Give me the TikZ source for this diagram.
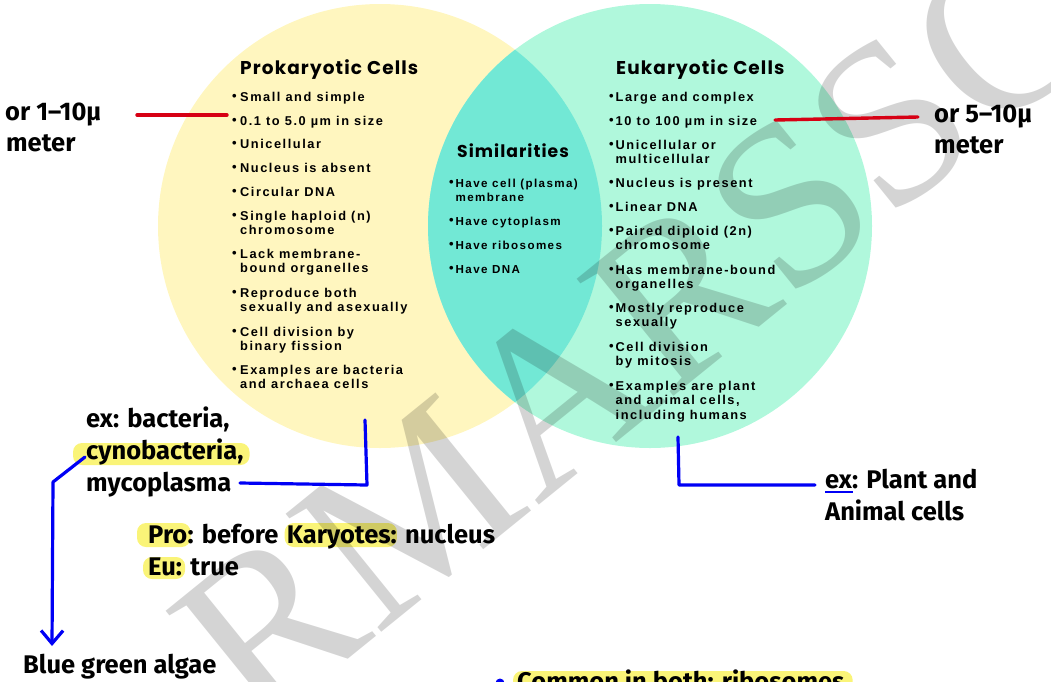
\documentclass[tikz,border=0pt]{standalone}
\usepackage{fontspec}
\setmainfont{Liberation Sans}
\newfontfamily\titlef{Poppins}[LetterSpace=6]
\newfontfamily\bodyf{Liberation Sans}[LetterSpace=12]
\newfontfamily\handf{Fira Sans}
\newfontfamily\wmf{Liberation Serif}
\usetikzlibrary{arrows.meta,calc,backgrounds}
\definecolor{yel}{RGB}{255,246,191}
\definecolor{mint}{RGB}{176,248,220}
\definecolor{lens}{RGB}{114,232,213}
\definecolor{hl}{RGB}{250,244,120}
\definecolor{pen}{RGB}{0,0,245}
\definecolor{redpen}{RGB}{215,0,20}
\newcommand\bu{\makebox[8pt][l]{\raisebox{.1ex}{\fontsize{13}{13}\selectfont\textbullet}}}
\newcommand\bum{\makebox[6.5pt][l]{\raisebox{.1ex}{\fontsize{13}{13}\selectfont\textbullet}}}
\newcommand\twol[2]{\begin{tabular}[t]{@{}l@{}}#1\\#2\end{tabular}}
\newcommand\threel[3]{\begin{tabular}[t]{@{}l@{}}#1\\#2\\#3\end{tabular}}
\begin{document}
\begin{tikzpicture}[x=1pt,y=-1pt,
  ttl/.style={inner sep=0pt, anchor=base west, font=\titlef\bfseries\fontsize{18.5}{20}\selectfont},
  itm/.style={inner sep=0pt, anchor=base west, font=\bodyf\bfseries\fontsize{12.8}{14.3}\selectfont},
  itms/.style={inner sep=0pt, anchor=base west, font=\bodyf\bfseries\fontsize{11.6}{14}\selectfont},
  hand/.style={inner sep=0pt, anchor=base west, font=\handf\bfseries\fontsize{25.5}{31}\selectfont},
  redline/.style={redpen, line width=3.4pt, line cap=round},
  blueline/.style={pen, line width=3.2pt, line cap=round, line join=round},
  hlbox/.style={hl, rounded corners=9pt}]
\useasboundingbox (0,0) rectangle (1051,681);
% circles
\fill[yel] (380,226) circle[radius=222pt];
\fill[mint] (650,226) circle[radius=222pt];
\begin{scope}
  \clip (380,226) circle[radius=222pt];
  \fill[lens] (650,226) circle[radius=222pt];
\end{scope}
% watermark
\node[rotate=39, font=\wmf\fontsize{232}{232}\selectfont, text=black, text opacity=0.17, inner sep=0pt] (wm) at (635,330) {RMARSSC};
% Prokaryotic
\node[ttl] (pt) at (240,74) {Prokaryotic Cells};
\node[itm] (p1) at (232,101.5) {\bu Small and simple};
\node[itm] (p2) at (232,125.5) {\bu 0.1 to 5.0 µm in size};
\node[itm] (p3) at (232,148.5) {\bu Unicellular};
\node[itm] (p4) at (232,172.5) {\bu Nucleus is absent};
\node[itm] (p5) at (232,196.5) {\bu Circular DNA};
\node[itm] (p6) at (232,220.5) {\bu\twol{Single haploid (n)}{chromosome}};
\node[itm] (p7) at (232,258.5) {\bu\twol{Lack membrane-}{bound organelles}};
\node[itm] (p8) at (232,297.5) {\bu\twol{Reproduce both}{sexually and asexually}};
\node[itm] (p9) at (232,336.5) {\bu\twol{Cell division by}{binary fission}};
\node[itm] (p10) at (232,374.5) {\bu\twol{Examples are bacteria}{and archaea cells}};
% Similarities
\node[ttl, font=\titlef\bfseries\fontsize{17.2}{19}\selectfont] (st) at (457,157) {Similarities};
\node[itms] (s1) at (449,187.5) {\bum\twol{Have cell (plasma)}{membrane}};
\node[itms] (s2) at (449,225.5) {\bum Have cytoplasm};
\node[itms] (s3) at (449,249.5) {\bum Have ribosomes};
\node[itms] (s4) at (449,273.5) {\bum Have DNA};
% Eukaryotic
\node[ttl] (et) at (616,74) {Eukaryotic Cells};
\node[itm] (e1) at (609,101.5) {\bum Large and complex};
\node[itm] (e2) at (609,125.5) {\bum 10 to 100 µm in size};
\node[itm] (e3) at (609,149.5) {\bum\twol{Unicellular or}{multicellular}};
\node[itm] (e4) at (609,187.5) {\bum Nucleus is present};
\node[itm] (e5) at (609,211.5) {\bum Linear DNA};
\node[itm] (e6) at (609,235.5) {\bum\twol{Paired diploid (2n)}{chromosome}};
\node[itm] (e7) at (609,274.5) {\bum\twol{Has membrane-bound}{organelles}};
\node[itm] (e8) at (609,312.5) {\bum\twol{Mostly reproduce}{sexually}};
\node[itm] (e9) at (609,351.5) {\bum\twol{Cell division}{by mitosis}};
\node[itm] (e10) at (609,390.5) {\bum\threel{Examples are plant}{and animal cells,}{including humans}};
% size notes
\node[hand] (n1a) at (5,120) {or 1–10µ};
\node[hand] (n1b) at (6,151) {meter};
\node[hand] (n2a) at (934,122) {or 5–10µ};
\node[hand] (n2b) at (934,153) {meter};
\coordinate (r1a) at (137,115);
\coordinate (r1b) at (227,115);
\coordinate (r2a) at (775,120);
\coordinate (r2b) at (918,117);
\draw[redline] (r1a) -- (r1b);
\draw[redline] (r2a) -- (r2b);
% examples left
\node[hand] (x1) at (86,427) {ex: bacteria,};
\node[hand] (x2) at (86,459) {cynobacteria,};
\node[hand] (x3) at (86,491) {mycoplasma};
\coordinate (bl0) at (240,483);
\coordinate (bl1) at (365,420);
\coordinate (bl2) at (367,485);
\draw[blueline] (bl0) -- (bl2) -- (bl1);
\coordinate (ar0) at (85,457);
\coordinate (ar1) at (53,482);
\coordinate (ar2) at (52,646);
\node[hand] (bga) at (23,673) {Blue green algae};
\draw[blueline, -{Straight Barb[length=13pt,width=22pt,line width=3.2pt]}] (ar0) -- (ar1) -- (ar2);
% Pro / Eu
\node[hand] (pro1) at (148,543) {Pro};
\node[hand] (pro2) at (pro1.base east) {: before};
\node[hand] (pro3) at ([xshift=8pt]pro2.base east) {Karyotes:};
\node[hand] (pro4) at ([xshift=8pt]pro3.base east) {nucleus};
\node[hand] (eu1) at (148,575) {Eu:};
\node[hand] (eu2) at ([xshift=8pt]eu1.base east) {true};
% examples right
\node[hand] (y1) at (825,488) {ex: Plant and};
\node[hand] (y2) at (825,520) {Animal cells};
\coordinate (br1) at (678,437);
\coordinate (br2) at (679,485);
\coordinate (br3) at (815,485);
\draw[blueline] (br1) -- (br2) -- (br3);
\coordinate (ul1) at (825,492);
\coordinate (ul2) at (853,492);
\draw[pen, line width=2.4pt] (ul1) -- (ul2);
% bottom
\fill[pen] (500,683) circle[radius=4.5pt];
\node[hand] (cb) at (517,690) {Common in both: ribosomes};
% highlights
\begin{pgfonlayer}{background}
\fill[hlbox] ($(x2.base west)+(-13,-16)$) rectangle ($(x2.base east)+(6,6)$);
\fill[hlbox] ($(pro1.base west)+(-11,-20)$) rectangle ($(pro1.base east)+(3,4)$);
\fill[hlbox] ($(pro3.base west)+(-2,-20)$) rectangle ($(pro3.base east)+(0,4)$);
\fill[hlbox] ($(eu1.base west)+(-5,-18)$) rectangle ($(eu1.base east)+(3,4)$);
\fill[hlbox] ($(cb.base west)+(-4,-19)$) rectangle ($(cb.base east)+(8,10)$);
\end{pgfonlayer}
\end{tikzpicture}
\end{document}
